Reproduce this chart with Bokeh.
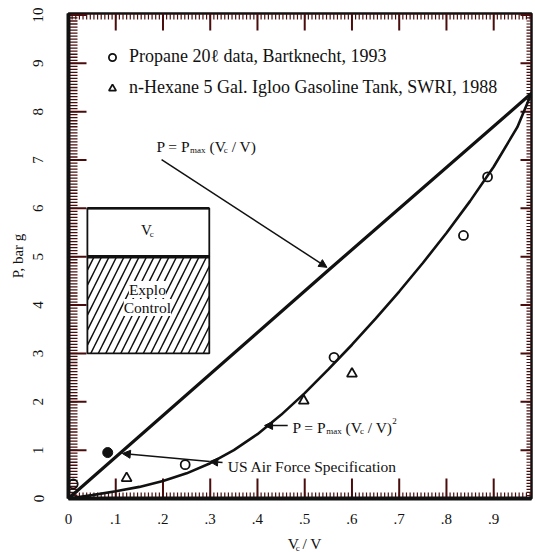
import numpy as np
from bokeh.plotting import figure
from bokeh.layouts import column
from bokeh.models import Range1d, FixedTicker, Label, Arrow, NormalHead, Legend, LegendItem
from bokeh.core.properties import value
from bokeh.embed import file_html
from bokeh.resources import INLINE

# ---------------- data ----------------
propane_x = [0.01, 0.247, 0.562, 0.836, 0.887]
propane_y = [0.30, 0.70, 2.92, 5.44, 6.65]
hexane_x = [0.123, 0.498, 0.600]
hexane_y = [0.42, 2.02, 2.58]
spec_x = [0.083]
spec_y = [0.95]
linear_x = [0.0, 0.55, 0.98]
linear_y = [0.0, 4.72, 8.38]
square_x = [0.0, 0.05, 0.10, 0.15, 0.20, 0.25, 0.30, 0.35, 0.40, 0.45, 0.50,
            0.55, 0.60, 0.65, 0.70, 0.75, 0.80, 0.85, 0.90, 0.95, 0.98]
square_y = [0.0, 0.07, 0.15, 0.24, 0.36, 0.52, 0.73, 1.00, 1.33, 1.73, 2.18,
            2.67, 3.18, 3.72, 4.28, 4.87, 5.49, 6.15, 6.86, 7.68, 8.38]
x_ticks = [0.0, 0.1, 0.2, 0.3, 0.4, 0.5, 0.6, 0.7, 0.8, 0.9]
x_tick_labels = ["0", ".1", ".2", ".3", ".4", ".5", ".6", ".7", ".8", ".9"]
y_ticks = [0, 1, 2, 3, 4, 5, 6, 7, 8, 9, 10]
y_tick_labels = ["0", "1", "2", "3", "4", "5", "6", "7", "8", "9", "10"]
legend_labels = ["Propane 20\u2113 data, Bartknecht, 1993",
                 "n-Hexane 5 Gal. Igloo Gasoline Tank, SWRI, 1988"]

FONT = "Liberation Serif"
INK = "#111111"
TICK = "#4a0d0d"
XMAX, YMAX = 0.98, 10.03
W_PX, H_PX, H_LAB = 535, 528, 24
B_L, B_R, B_T, B_B = 68, 4, 13, 30

p = figure(width=W_PX, height=H_PX, output_backend="svg", toolbar_location=None,
           x_range=Range1d(0, XMAX), y_range=Range1d(0, YMAX),
           min_border_left=B_L, min_border_right=B_R, min_border_top=B_T,
           min_border_bottom=B_B)
p.outline_line_color = INK
p.outline_line_width = 2.5
p.xgrid.visible = False
p.ygrid.visible = False


def style_axis(ax, lw):
    ax.axis_line_width = lw
    ax.axis_line_color = INK
    ax.major_tick_line_color = None
    ax.minor_tick_line_color = None
    ax.major_label_text_font = FONT
    ax.major_label_text_color = INK
    ax.major_label_text_font_size = "15px"


xb = p.xaxis[0]
xb.ticker = FixedTicker(ticks=x_ticks)
xb.major_label_overrides = {float(v): s for v, s in zip(x_ticks, x_tick_labels)}
style_axis(xb, 4)
xb.major_label_standoff = 9

yl = p.yaxis[0]
yl.ticker = FixedTicker(ticks=y_ticks)
yl.major_label_overrides = {int(v): s for v, s in zip(y_ticks, y_tick_labels)}
style_axis(yl, 4)
yl.major_label_orientation = "vertical"
yl.major_label_standoff = 19
yl.axis_label = "P, bar g"
yl.axis_label_text_font = FONT
yl.axis_label_text_font_style = "normal"
yl.axis_label_text_font_size = "15px"
yl.axis_label_text_color = INK
yl.axis_label_standoff = 5

# ---------------- inward ticks on all four sides ----------------
px_x = (W_PX - B_L - B_R) / XMAX
px_y = (H_PX - B_T - B_B) / YMAX
x_minor = [round(i * 0.1 / 13, 5) for i in range(1, 128)]
y_minor = [round(i / 16, 5) for i in range(1, 160)]


def vticks(xs, y0, length_px, direction, lw):
    d = direction * length_px / px_y
    p.segment(x0=list(xs), y0=[y0] * len(xs), x1=list(xs),
              y1=[y0 + d] * len(xs), line_color=TICK, line_width=lw)


def hticks(ys, x0, length_px, direction, lw):
    d = direction * length_px / px_x
    p.segment(x0=[x0] * len(ys), y0=list(ys), x1=[x0 + d] * len(ys),
              y1=list(ys), line_color=TICK, line_width=lw)


vticks(x_ticks, 0.0, 20, 1, 2)
vticks(x_ticks, YMAX, 17, -1, 2)
hticks(y_ticks, 0.0, 18, 1, 2)
hticks(y_ticks, XMAX, 11, -1, 2)
vticks(x_minor, 0.0, 6, 1, 1.2)
vticks(x_minor, YMAX, 6, -1, 1.2)
hticks(y_minor, 0.0, 9, 1, 1.3)
hticks(y_minor, XMAX, 5, -1, 1.2)

# ---------------- curves ----------------
p.line(linear_x, linear_y, line_color=INK, line_width=3.2)
p.line(square_x, square_y, line_color=INK, line_width=2.6)

# ---------------- inset diagram ----------------
box_l, box_r, box_mid, box_top, box_bot = 0.04, 0.298, 5.0, 6.0, 3.0
p.quad(left=box_l, right=box_r, bottom=box_mid, top=box_top,
       fill_color=None, line_color=INK, line_width=1.8)
p.quad(left=box_l, right=box_r, bottom=box_bot, top=box_mid,
       fill_color=None, line_color=INK, line_width=1.8,
       hatch_pattern="/", hatch_color=INK, hatch_scale=15, hatch_weight=1.5)
p.line([box_l, box_r], [box_mid, box_mid], line_color=INK, line_width=3.5)
p.line([box_l, box_r], [box_top, box_top], line_color=INK, line_width=2.5)

# ---------------- markers ----------------
r_prop = p.scatter(propane_x, propane_y, marker="circle", size=9,
                   fill_color=None, line_color=INK, line_width=1.8)
r_hex = p.scatter(hexane_x, hexane_y, marker="triangle", size=10,
                  fill_color=None, line_color=INK, line_width=1.8)
p.scatter(spec_x, spec_y, marker="circle", size=10, fill_color=INK,
          line_color=INK)

legend = Legend(items=[LegendItem(label=legend_labels[0], renderers=[r_prop]),
                       LegendItem(label=legend_labels[1], renderers=[r_hex])],
                location="top_left", margin=23, padding=10, spacing=10,
                glyph_width=22, glyph_height=18, label_height=18,
                label_standoff=6, border_line_alpha=0,
                background_fill_alpha=0,
                label_text_font=FONT, label_text_font_size="18px",
                label_text_color=INK)
p.add_layout(legend)

# ---------------- texts with sub/superscripts ----------------
W = {' ': 250, '/': 278, '(': 333, ')': 333, '=': 564, '2': 500, 'P': 556,
     'V': 722, 'a': 444, 'c': 444, 'm': 778, 'x': 500}


def w_of(t, s):
    return sum(W.get(ch, 500) for ch in t) * s / 1000


def text_runs(x, y, parts, align="left", baseline="alphabetic"):
    total = sum(w_of(t, s) + k for t, s, _, k in parts)
    off = -total / 2 if align == "center" else 0
    for t, s, dy, k in parts:
        lead = len(t) - len(t.lstrip(" "))
        off += lead * 250 * s / 1000
        core = t.strip(" ")
        p.add_layout(Label(x=x, y=y, x_offset=off + k, y_offset=dy, text=core,
                           text_font=FONT, text_font_size=f"{s}px",
                           text_color=INK, text_baseline=baseline,
                           text_align="left"))
        off += w_of(t.lstrip(" "), s) + k


text_runs(0.186, 7.28, [("P = P", 15.5, 0, 0), ("max", 9, -4, 0),
                        (" (V", 15.5, 0, 0), ("c", 9, -4, -2),
                        (" / V)", 15.5, 0, 0)])
text_runs(0.474, 1.47, [("P = P", 15.5, 0, 0), ("max", 9, -4, 0),
                        (" (V", 15.5, 0, 0), ("c", 9, -4, -2),
                        (" / V)", 15.5, 0, 0), ("2", 9, 6, 0)])
text_runs(0.167, 5.56, [("V", 15, 0, 0), ("c", 9, -4, -2)], align="center")

for t, yy in [("Explo", 4.32), ("Control", 3.95)]:
    p.add_layout(Label(x=0.167, y=yy, text=t, text_font=FONT,
                       text_font_size="15.5px", text_color=INK,
                       text_align="center", text_baseline="middle",
                       background_fill_color="white"))

p.add_layout(Label(x=0.337, y=0.66, text="US Air Force Specification",
                   text_font=FONT, text_font_size="15.5px", text_color=INK,
                   text_baseline="alphabetic"))


# ---------------- arrows ----------------
def arrow(x0, y0, x1, y1, lw=1.5):
    p.add_layout(Arrow(x_start=x0, y_start=y0, x_end=x1, y_end=y1,
                       line_color=INK, line_width=lw,
                       end=NormalHead(size=8, fill_color=INK, line_color=INK)))


arrow(0.197, 7.01, 0.547, 4.78)
arrow(0.464, 1.51, 0.415, 1.51)
arrow(0.326, 0.745, 0.299, 0.765)
arrow(0.299, 0.765, 0.114, 0.93)

# ---------------- x axis title (with subscript) in a strip below ----------------
xlab = figure(width=W_PX, height=H_LAB, output_backend="svg",
              toolbar_location=None, x_range=Range1d(0, W_PX),
              y_range=Range1d(0, H_LAB), min_border=0,
              x_axis_location=None, y_axis_location=None)
xlab.grid.visible = False
xlab.outline_line_color = None
x_title_parts = [("V", 15.5, 0.0, 0.0), ("c", 9, -4.0, -2.0), (" / V", 15.5, 0.0, 0.0)]
cx = B_L + (W_PX - B_L - B_R) / 2 - 28
total = sum(w_of(t, s) + k for t, s, _, k in x_title_parts)
off = cx - total / 2
for t, s, dy, k in x_title_parts:
    lead = len(t) - len(t.lstrip(" "))
    off += lead * 250 * s / 1000
    xlab.text(x=[off + k], y=[9 + dy], text=[t.strip(" ")],
              text_font=value(FONT), text_font_size=f"{s}px", text_color=INK,
              text_baseline="alphabetic", text_align="left")
    off += w_of(t.lstrip(" "), s) + k

open("out.html", "w").write(file_html(column(p, xlab, spacing=0), INLINE))
